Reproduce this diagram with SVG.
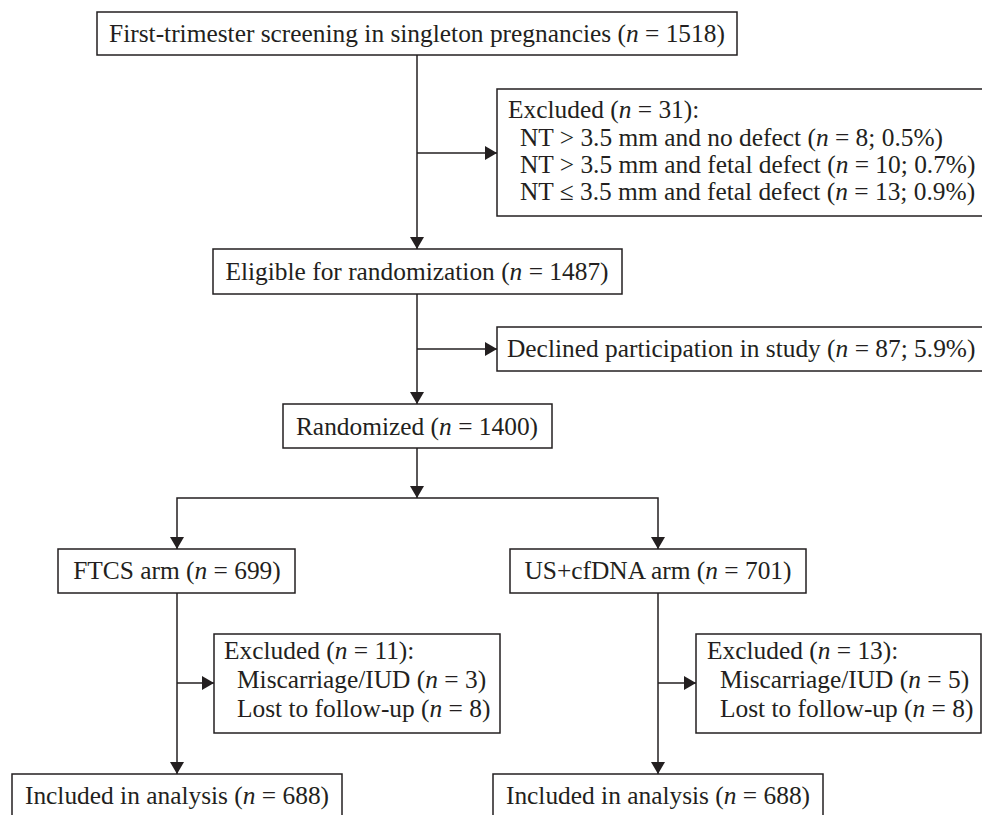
<svg xmlns="http://www.w3.org/2000/svg" width="982" height="815" viewBox="0 0 982 815">
<defs>
<style>
.box{fill:#fff;stroke:#231f20;stroke-width:1.5}
.t{font-family:"Liberation Serif","Times New Roman",serif;font-size:25.4px;fill:#231f20}
.c{text-anchor:middle}
.conn path{fill:none;stroke:#231f20;stroke-width:1.5}
</style>
<marker id="ah" markerUnits="userSpaceOnUse" markerWidth="12" markerHeight="14" refX="12" refY="7" orient="auto">
<path d="M0,0 L12,7 L0,14 z" fill="#231f20"/>
</marker>
</defs>
<rect width="982" height="815" fill="#fff"/>
<g class="conn">
<path d="M417,55 V249" marker-end="url(#ah)"/>
<path d="M417,153 H497" marker-end="url(#ah)"/>
<path d="M417,294 V404" marker-end="url(#ah)"/>
<path d="M417,349 H497" marker-end="url(#ah)"/>
<path d="M417,448 V498" marker-end="url(#ah)"/>
<path d="M417,498 H177 V549" marker-end="url(#ah)"/>
<path d="M417,498 H658 V549" marker-end="url(#ah)"/>
<path d="M177,593 V774" marker-end="url(#ah)"/>
<path d="M177,683 H214" marker-end="url(#ah)"/>
<path d="M658,593 V774" marker-end="url(#ah)"/>
<path d="M658,683 H696" marker-end="url(#ah)"/>
</g>
<g id="screening">
<rect class="box" x="97" y="12" width="640" height="43"/>
<text class="t c" x="417" y="42">First-trimester screening in singleton pregnancies (<tspan font-style="italic">n</tspan> = 1518)</text>
</g>
<g id="excluded1">
<rect class="box" x="497" y="89" width="500" height="127"/>
<text class="t" x="508" y="118">Excluded (<tspan font-style="italic">n</tspan> = 31):</text>
<text class="t" x="520" y="146">NT &gt; 3.5 mm and no defect (<tspan font-style="italic">n</tspan> = 8; 0.5%)</text>
<text class="t" x="520" y="173">NT &gt; 3.5 mm and fetal defect (<tspan font-style="italic">n</tspan> = 10; 0.7%)</text>
<text class="t" x="520" y="200">NT ≤ 3.5 mm and fetal defect (<tspan font-style="italic">n</tspan> = 13; 0.9%)</text>
</g>
<g id="eligible">
<rect class="box" x="213" y="249" width="409" height="45"/>
<text class="t c" x="417" y="280">Eligible for randomization (<tspan font-style="italic">n</tspan> = 1487)</text>
</g>
<g id="declined">
<rect class="box" x="497" y="327" width="500" height="44"/>
<text class="t" x="507" y="357">Declined participation in study (<tspan font-style="italic">n</tspan> = 87; 5.9%)</text>
</g>
<g id="randomized">
<rect class="box" x="283" y="404" width="269" height="44"/>
<text class="t c" x="417" y="435">Randomized (<tspan font-style="italic">n</tspan> = 1400)</text>
</g>
<g id="ftcs">
<rect class="box" x="58" y="549" width="237" height="44"/>
<text class="t c" x="177" y="579">FTCS arm (<tspan font-style="italic">n</tspan> = 699)</text>
</g>
<g id="uscfdna">
<rect class="box" x="510" y="549" width="296" height="44"/>
<text class="t c" x="658" y="579">US+cfDNA arm (<tspan font-style="italic">n</tspan> = 701)</text>
</g>
<g id="excluded-ftcs">
<rect class="box" x="214" y="634" width="286" height="99"/>
<text class="t" x="224" y="659">Excluded (<tspan font-style="italic">n</tspan> = 11):</text>
<text class="t" x="237" y="688">Miscarriage/IUD (<tspan font-style="italic">n</tspan> = 3)</text>
<text class="t" x="237" y="717">Lost to follow-up (<tspan font-style="italic">n</tspan> = 8)</text>
</g>
<g id="excluded-us">
<rect class="box" x="696" y="634" width="285" height="99"/>
<text class="t" x="707" y="659">Excluded (<tspan font-style="italic">n</tspan> = 13):</text>
<text class="t" x="720" y="688">Miscarriage/IUD (<tspan font-style="italic">n</tspan> = 5)</text>
<text class="t" x="720" y="717">Lost to follow-up (<tspan font-style="italic">n</tspan> = 8)</text>
</g>
<g id="included-ftcs">
<rect class="box" x="12" y="774" width="330" height="60"/>
<text class="t c" x="177" y="804">Included in analysis (<tspan font-style="italic">n</tspan> = 688)</text>
</g>
<g id="included-us">
<rect class="box" x="493" y="774" width="330" height="60"/>
<text class="t c" x="658" y="804">Included in analysis (<tspan font-style="italic">n</tspan> = 688)</text>
</g>
</svg>
